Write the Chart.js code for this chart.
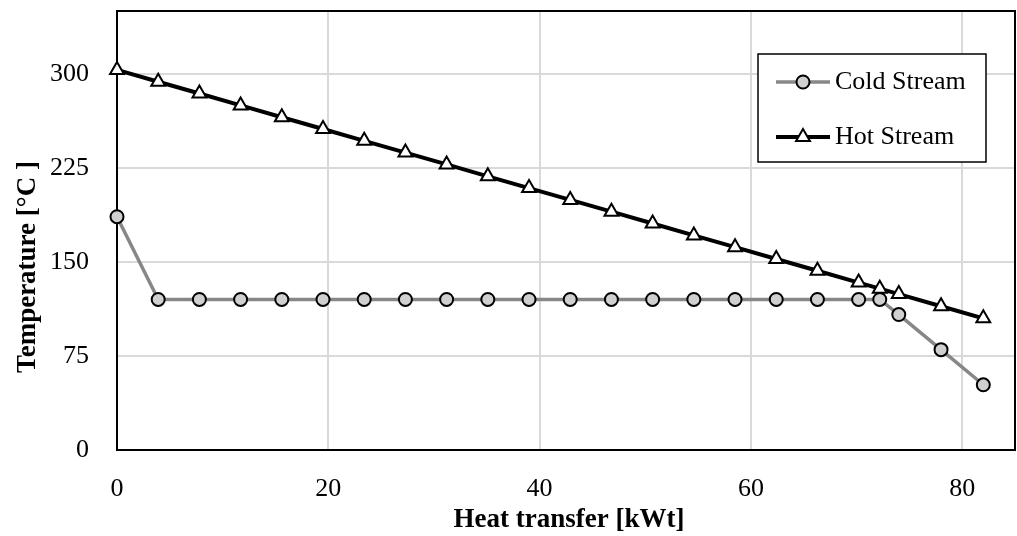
<!DOCTYPE html>
<html>
<head>
<meta charset="utf-8">
<script src="https://cdn.jsdelivr.net/npm/chart.js@4"></script>
<style>
  html, body { margin: 0; padding: 0; background: #fff; overflow: hidden; }
  canvas { display: block; }
</style>
</head>
<body>
<canvas id="chartHeat" width="1017" height="536"></canvas>
<script>
// heat transfer [kWt] at each point
var heatX = [0, 3.9, 7.8, 11.7, 15.6, 19.5, 23.4, 27.3, 31.2, 35.1, 39.0, 42.9,
             46.8, 50.7, 54.6, 58.5, 62.4, 66.3, 70.2, 72.2, 74.0, 78.0, 82.0];
var coldT = [186, 120, 120, 120, 120, 120, 120, 120, 120, 120, 120, 120,
             120, 120, 120, 120, 120, 120, 120, 120, 108, 80, 52];
var hotT  = [303, 293.6, 284.2, 274.7, 265.3, 255.9, 246.5, 237.1, 227.7, 218.2, 208.8, 199.4,
             190, 180.6, 171.1, 161.7, 152.3, 142.9, 133.5, 128.6, 124.3, 114.6, 105];
var xTicks = [0, 20, 40, 60, 80];
var yTicks = [0, 75, 150, 225, 300];
var seriesNames = ['Cold Stream', 'Hot Stream'];

var serif = '"Liberation Serif", "Times New Roman", serif';

function toPoints(ys) {
    return heatX.map((x, i) => ({x: x, y: ys[i]}));
}

function noPad(s) {
    s.paddingTop = 0;
    s.paddingBottom = 0;
    s.paddingLeft = 0;
    s.paddingRight = 0;
}

var frameAndText = {
    id: 'frameAndText',
    beforeDatasetsDraw(chart) {
        // plot border, under the markers
        var ctx = chart.ctx, a = chart.chartArea;
        ctx.save();
        ctx.strokeStyle = '#000';
        ctx.lineWidth = 2;
        ctx.strokeRect(a.left, a.top, a.right - a.left, a.bottom - a.top);
        ctx.restore();
    },
    afterDatasetsDraw(chart) {
        var ctx = chart.ctx;
        ctx.save();

        // legend box
        var bx = 758, by = 54, bw = 228, bh = 108;
        ctx.fillStyle = '#fff';
        ctx.fillRect(bx, by, bw, bh);
        ctx.strokeStyle = '#000';
        ctx.lineWidth = 1.5;
        ctx.strokeRect(bx, by, bw, bh);

        var rows = [82, 137];
        chart.data.datasets.forEach((ds, i) => {
            var y = rows[i];
            ctx.strokeStyle = ds.borderColor;
            ctx.lineWidth = ds.borderWidth;
            ctx.beginPath();
            ctx.moveTo(776, y);
            ctx.lineTo(830, y);
            ctx.stroke();
            ctx.fillStyle = ds.pointBackgroundColor;
            ctx.strokeStyle = ds.pointBorderColor;
            ctx.lineWidth = ds.pointBorderWidth;
            Chart.helpers.drawPoint(ctx, {pointStyle: ds.pointStyle, radius: ds.pointRadius, rotation: 0, borderWidth: ds.pointBorderWidth}, 803, y);
            ctx.fillStyle = '#000';
            ctx.font = '26px ' + serif;
            ctx.textAlign = 'left';
            ctx.textBaseline = 'middle';
            ctx.fillText(ds.label, 835, y);
        });

        // axis titles
        ctx.fillStyle = '#000';
        ctx.font = 'bold 27px ' + serif;
        ctx.textAlign = 'center';
        ctx.textBaseline = 'middle';
        ctx.fillText('Heat transfer [kWt]', 569, 520);
        ctx.translate(28, 267);
        ctx.rotate(-Math.PI / 2);
        ctx.fillText('Temperature [°C ]', 0, 0);
        ctx.restore();
    }
};

new Chart(document.getElementById('chartHeat'), {
    type: 'scatter',
    data: {
        datasets: [{
            label: seriesNames[0],
            data: toPoints(coldT),
            showLine: true,
            clip: false,
            borderColor: '#878787',
            borderWidth: 3.5,
            pointStyle: 'circle',
            pointRadius: 6.5,
            pointBackgroundColor: '#d0d0d0',
            pointBorderColor: '#000',
            pointBorderWidth: 2,
            order: 1
        }, {
            label: seriesNames[1],
            data: toPoints(hotT),
            showLine: true,
            clip: false,
            borderColor: '#000',
            borderWidth: 4,
            pointStyle: 'triangle',
            pointRadius: 8,
            pointBackgroundColor: '#fff',
            pointBorderColor: '#000',
            pointBorderWidth: 2,
            order: 0
        }]
    },
    options: {
        responsive: false,
        animation: false,
        layout: { autoPadding: false, padding: { top: 11, right: 2, left: 0, bottom: 0 } },
        plugins: {
            legend: { display: false },
            tooltip: { enabled: false }
        },
        scales: {
            x: {
                type: 'linear',
                min: 0,
                max: 85,
                afterBuildTicks: s => { s.ticks = xTicks.map(v => ({value: v})); },
                afterFit: s => { s.height = 86; noPad(s); },
                grid: { color: '#d9d9d9', lineWidth: 2, drawTicks: false },
                border: { display: false },
                ticks: { padding: 24, color: '#000', font: { family: serif, size: 26 } }
            },
            y: {
                min: 0,
                max: 350,
                afterBuildTicks: s => { s.ticks = yTicks.map(v => ({value: v})); },
                afterFit: s => { s.width = 117; noPad(s); },
                grid: { color: '#d9d9d9', lineWidth: 2, drawTicks: false },
                border: { display: false },
                ticks: { padding: 28, color: '#000', font: { family: serif, size: 26 } }
            }
        }
    },
    plugins: [frameAndText]
});
</script>
</body>
</html>
